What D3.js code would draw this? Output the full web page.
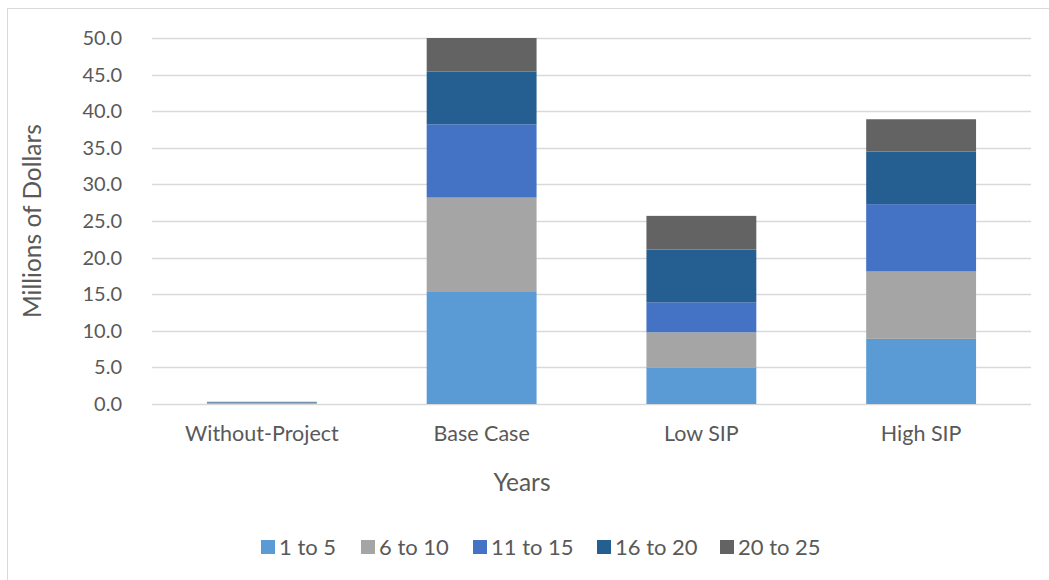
<!DOCTYPE html>
<html>
<head>
<meta charset="utf-8">
<script src="https://cdn.jsdelivr.net/npm/d3@7"></script>
<style>
  body { margin: 0; background: #fff; }
  svg { display: block; font-family: Lato, sans-serif; }
</style>
</head>
<body>
<svg id="vis" width="1049" height="580"></svg>
<script>
const categories = ['Without-Project', 'Base Case', 'Low SIP', 'High SIP'];
const seriesNames = ['1 to 5', '6 to 10', '11 to 15', '16 to 20', '20 to 25'];
const colors = ['#5b9bd5', '#a5a5a5', '#4472c4', '#255e91', '#636363'];
// values per series, one per category (millions of dollars)
const yrs1to5 = [0.06, 15.3, 5.0, 8.9];
const yrs6to10 = [0.06, 12.9, 4.8, 9.2];
const yrs11to15 = [0.06, 10.0, 4.1, 9.2];
const yrs16to20 = [0.06, 7.2, 7.2, 7.2];
const yrs20to25 = [0.06, 4.6, 4.6, 4.4];
const yTicks = [0, 5, 10, 15, 20, 25, 30, 35, 40, 45, 50];

const seriesValues = [yrs1to5, yrs6to10, yrs11to15, yrs16to20, yrs20to25];
const rows = categories.map((c, i) => {
  const r = {cat: c};
  seriesNames.forEach((s, j) => { r[s] = seriesValues[j][i]; });
  return r;
});
const stacked = d3.stack().keys(seriesNames)(rows);

const vis = d3.select('#vis');
const textColor = '#595959';
const font = 'Lato, sans-serif';

// chart border
vis.append('rect')
  .attr('x', 7.5).attr('y', 8.5)
  .attr('width', 1060).attr('height', 600)
  .attr('fill', 'none').attr('stroke', '#d9d9d9');

const plotLeft = 152, plotRight = 1031, plotTop = 38, plotBottom = 404;
const x = d3.scaleBand().domain(categories).range([plotLeft, plotRight]).paddingInner(0.5).paddingOuter(0.25);
const y = d3.scaleLinear().domain([0, 50]).range([plotBottom, plotTop]);

// gridlines
vis.append('g').selectAll('line').data(yTicks).join('line')
  .attr('x1', plotLeft).attr('x2', plotRight)
  .attr('y1', d => Math.round(y(d)) + 0.5).attr('y2', d => Math.round(y(d)) + 0.5)
  .attr('stroke', '#d9d9d9').attr('stroke-width', 1.3);

// y axis labels
const yAxis = vis.append('g').attr('transform', `translate(${plotLeft},0)`)
  .call(d3.axisLeft(y).tickValues(yTicks).tickFormat(d3.format('.1f')).tickSize(0).tickPadding(30));
yAxis.select('.domain').remove();
yAxis.selectAll('text').attr('fill', textColor).style('font-size', '20px')
  .style('font-family', font);

// bars
vis.append('g').selectAll('g').data(stacked).join('g')
  .attr('fill', (d, i) => colors[i])
  .selectAll('rect').data(d => d).join('rect')
  .attr('x', d => x(d.data.cat))
  .attr('width', x.bandwidth())
  .attr('y', d => y(d[1]))
  .attr('height', d => y(d[0]) - y(d[1]));

// x axis labels
const xAxis = vis.append('g').attr('transform', `translate(0,${plotBottom})`)
  .call(d3.axisBottom(x).tickSize(0).tickPadding(22));
xAxis.select('.domain').remove();
xAxis.selectAll('text').attr('fill', textColor).style('font-size', '21.5px')
  .style('font-family', font);

// axis titles
vis.append('text')
  .attr('x', 522).attr('y', 491)
  .attr('text-anchor', 'middle').attr('fill', textColor)
  .style('font-size', '24.5px').text('Years');
vis.append('text')
  .attr('transform', `translate(41,${(plotTop + plotBottom) / 2}) rotate(-90)`)
  .attr('text-anchor', 'middle').attr('fill', textColor)
  .style('font-size', '24.5px').text('Millions of Dollars');

// legend
const legendX = [261, 361, 473, 597, 720];
const legend = vis.append('g').selectAll('g').data(seriesNames).join('g')
  .attr('transform', (d, i) => `translate(${legendX[i]},540)`);
legend.append('rect').attr('width', 14).attr('height', 14).attr('fill', (d, i) => colors[i]);
legend.append('text').attr('x', 18).attr('y', 15)
  .attr('fill', textColor).style('font-size', '22px').text(d => d);
</script>
</body>
</html>
